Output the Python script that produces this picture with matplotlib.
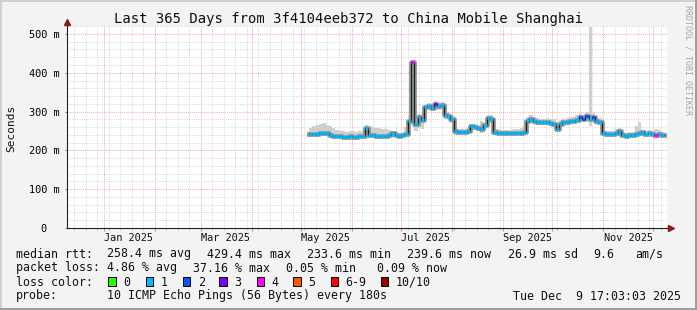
import numpy as np
import pandas as pd
import matplotlib
matplotlib.use("Agg")
import matplotlib.pyplot as plt
import matplotlib.dates as mdates
from matplotlib.ticker import MultipleLocator
from matplotlib.patches import Rectangle
from matplotlib.lines import Line2D

W, H = 697, 310
FONT = "DejaVu Sans Mono"

# time window of the graph
t_start = pd.Timestamp("2024-12-09 17:03")
t_end = pd.Timestamp("2025-12-09 17:03")

# one sample every 2 days from 2025-05-06, values in ms
first_sample = "2025-05-06"
median = [241, 242, 243, 244, 245, 244, 240, 238, 237, 236,
          235, 235, 236, 235, 235, 236, 237, 258, 240, 239,
          238, 238, 237, 238, 240, 244, 240, 238, 239, 241,
          275, 429, 268, 285, 278, 312, 314, 310, 320, 315,
          318, 292, 288, 280, 250, 248, 247, 248, 250, 262,
          260, 258, 255, 265, 283, 282, 248, 246, 245, 246,
          244, 245, 246, 245, 246, 247, 276, 280, 276, 274,
          272, 273, 274, 270, 268, 256, 268, 272, 274, 275,
          276, 278, 286, 282, 288, 280, 286, 275, 274, 244,
          242, 243, 242, 246, 250, 240, 238, 239, 240, 241,
          245, 248, 243, 245, 242, 240, 241, 239]
smoke_hi = [258, 262, 266, 268, 270, 265, 262, 258, 252, 250,
            250, 248, 249, 250, 248, 250, 252, 265, 262, 260,
            258, 257, 256, 255, 252, 250, 248, 245, 246, 260,
            290, 432, 280, 295, 290, 318, 322, 318, 326, 322,
            325, 305, 298, 290, 258, 256, 255, 255, 258, 268,
            266, 264, 275, 272, 292, 290, 256, 254, 252, 253,
            252, 252, 254, 255, 258, 262, 285, 290, 286, 284,
            282, 282, 284, 282, 280, 270, 278, 282, 284, 286,
            287, 290, 296, 292, 298, 518, 296, 288, 284, 252,
            250, 250, 249, 256, 258, 248, 246, 247, 248, 262,
            272, 252, 250, 252, 250, 256, 252, 248]
smoke_lo = [237, 237, 238, 238, 239, 238, 236, 234, 233, 232,
            231, 231, 232, 231, 231, 232, 233, 236, 235, 235,
            234, 234, 233, 234, 236, 238, 236, 234, 235, 236,
            240, 400, 250, 258, 255, 300, 305, 302, 308, 305,
            306, 282, 280, 270, 240, 242, 241, 242, 243, 252,
            252, 250, 246, 255, 272, 270, 240, 240, 239, 240,
            239, 239, 240, 239, 240, 241, 268, 270, 268, 266,
            265, 266, 266, 262, 260, 250, 260, 264, 266, 267,
            268, 270, 276, 272, 278, 262, 278, 268, 266, 238,
            237, 238, 237, 240, 242, 235, 234, 235, 236, 236,
            238, 240, 238, 239, 237, 236, 237, 235]
# loss colour class of each sample
loss = [1, 1, 1, 1, 1, 1, 1, 1, 1, 1,
        1, 1, 1, 1, 1, 1, 1, 1, 1, 1,
        1, 1, 1, 1, 1, 1, 1, 1, 1, 1,
        1, 4, 1, 1, 1, 1, 1, 1, 3, 1,
        1, 1, 1, 1, 1, 1, 1, 1, 1, 1,
        1, 1, 1, 1, 1, 1, 1, 1, 1, 1,
        1, 1, 1, 1, 1, 1, 1, 1, 1, 1,
        1, 1, 1, 1, 1, 1, 1, 1, 1, 1,
        1, 1, 2, 2, 2, 1, 2, 1, 1, 1,
        1, 1, 1, 1, 1, 1, 1, 1, 1, 1,
        1, 1, 1, 1, 1, 4, 1, 1]

loss_colors = ["#26ff00", "#00b8ff", "#0059ff", "#7e00ff",
               "#ff00ff", "#ff5500", "#ff0000", "#a10000"]
loss_labels = ["0", "1", "2", "3", "4", "5", "6-9", "10/10"]

tick_dates = ["2025-01-16", "2025-03-16", "2025-05-16",
              "2025-07-16", "2025-09-16", "2025-11-16"]
tick_labels = ["Jan 2025", "Mar 2025", "May 2025",
               "Jul 2025", "Sep 2025", "Nov 2025"]
y_ticks = [0, 100, 200, 300, 400, 500]
y_labels = ["0  ", "100 m", "200 m", "300 m", "400 m", "500 m"]

title = "Last 365 Days from 3f4104eeb372 to China Mobile Shanghai"
rtt_stats = ["258.4 ms avg", "429.4 ms max", "233.6 ms min",
             "239.6 ms now", "26.9 ms sd", "9.6", "am/s"]
loss_stats = ["4.86 % avg", "37.16 % max", "0.05 % min", "0.09 % now"]
probe_text = "10 ICMP Echo Pings (56 Bytes) every 180s"
stamp = "Tue Dec  9 17:03:03 2025"


def fx(px):
    return px / W


def fy(py):
    return 1 - py / H


fig = plt.figure(figsize=(W / 100, H / 100), dpi=100, facecolor="#f3f3f3")

top_px, bot_px = 26.2, 228
ax = fig.add_axes([fx(67), fy(bot_px), fx(600), (bot_px - top_px) / H])
ax.set_facecolor("white")

dates = pd.date_range(first_sample, periods=len(median), freq="2D")
x = mdates.date2num(dates)
step = x[1] - x[0]
x_edges = np.append(x, x[-1] + step)


def ext(v):
    return np.append(v, v[-1])


# smoke
ax.fill_between(x_edges, ext(smoke_lo), ext(smoke_hi), step="post",
                color="#cfcfcf", lw=0, zorder=2)
ax.step(x_edges, ext(median), where="post", color="#9a9a9a", lw=3.5, zorder=3)
# median line, dark connectors plus loss-coloured segments
ax.step(x_edges, ext(median), where="post", color="#202020", lw=1.0, zorder=4)
ax.hlines(median, x, x + step, colors=[loss_colors[l] for l in loss],
          lw=2.2, zorder=5)

ax.set_xlim(mdates.date2num(t_start), mdates.date2num(t_end))
ax.set_ylim(0, 520)

ax.xaxis.set_major_locator(mdates.MonthLocator())
ax.xaxis.set_minor_locator(mdates.WeekdayLocator(byweekday=mdates.SA))
ax.xaxis.set_major_formatter(plt.NullFormatter())
ax.yaxis.set_major_locator(MultipleLocator(100))
ax.yaxis.set_minor_locator(MultipleLocator(20))
ax.set_yticks(y_ticks, y_labels)

ax.grid(which="minor", color="#d0d0d0", lw=0.7, ls=(0, (1, 1.5)))
ax.grid(which="major", color="#f3aaaa", lw=0.7, ls=(0, (1, 1)))
ax.set_axisbelow(True)

for s in ["top", "right"]:
    ax.spines[s].set_visible(False)
for s in ["left", "bottom"]:
    ax.spines[s].set_color("#202020")
    ax.spines[s].set_linewidth(0.8)
    ax.spines[s].set_zorder(6)

ax.tick_params(axis="x", which="major", length=2, color="#f08080", direction="out")
ax.tick_params(axis="x", which="minor", length=1.5, color="#b0b0b0", direction="out")
ax.tick_params(axis="y", which="major", length=1.5, color="#909090", pad=3.8,
               labelsize=7.4)
ax.tick_params(axis="y", which="minor", length=0)
for lab in ax.get_yticklabels():
    lab.set_fontfamily(FONT)

# arrows at the ends of the axes
arrow_c = "#8b1a1a"
ax.add_line(Line2D([0, 0], [1, 1.02], transform=ax.transAxes, color="#202020",
                   lw=0.8, clip_on=False))
ax.plot([0], [1.022], marker="^", ms=4.5, color=arrow_c, transform=ax.transAxes,
        clip_on=False)
ax.add_line(Line2D([1, 1.005], [0, 0], transform=ax.transAxes, color="#202020",
                   lw=0.8, clip_on=False))
ax.plot([1.0065], [0], marker=">", ms=4.5, color=arrow_c, transform=ax.transAxes,
        clip_on=False)

# month labels
for d, lab in zip(tick_dates, tick_labels):
    ax.text(mdates.date2num(pd.Timestamp(d)), -(237.7 - bot_px) / (bot_px - top_px),
            lab, transform=ax.get_xaxis_transform(), ha="center", va="center",
            fontsize=7.4, family=FONT, color="#101010")

fig.text(fx(348), fy(18.5), title, ha="center", va="center", fontsize=10,
         family=FONT, color="#101010")
fig.text(fx(11), fy(128), "Seconds", rotation=90, ha="center", va="center",
         fontsize=8, family=FONT, color="#101010")
fig.text(fx(688), fy(60), "RRDTOOL / TOBI OETIKER", rotation=270, ha="center",
         va="center", fontsize=6, family=FONT, color="#a8a8a8")

# legend block
lsize = 8.4
kw = dict(ha="left", va="center", fontsize=lsize, family=FONT, color="#101010")
fig.text(fx(16), fy(254), "median rtt:", **kw)
for xp, s in zip([107, 207, 307, 407, 507.5, 593, 635], rtt_stats):
    fig.text(fx(xp), fy(254), s, **kw)
fig.text(fx(16), fy(268), "packet loss:", **kw)
for xp, s in zip([107, 193, 286, 377], loss_stats):
    fig.text(fx(xp), fy(268), s, **kw)
fig.text(fx(16), fy(282), "loss color:", **kw)
sw_x = [108.3, 145.7, 182.7, 219.3, 256.7, 293.3, 330.7, 380.7]
for xp, c, lab in zip(sw_x, loss_colors, loss_labels):
    fig.add_artist(Rectangle((fx(xp), fy(285.7)), fx(7.4), 8.4 / H,
                             transform=fig.transFigure, facecolor=c,
                             edgecolor="#000000", lw=0.7))
    fig.text(fx(xp + 15), fy(282), lab, **kw)
fig.text(fx(16), fy(296), "probe:", **kw)
fig.text(fx(107), fy(296), probe_text, **kw)
fig.text(fx(513), fy(296), stamp, **kw)

# frame around the image
fig.add_artist(Line2D([0, 1], [fy(0.7), fy(0.7)], transform=fig.transFigure,
                      color="#d0d0d0", lw=1.4))
fig.add_artist(Line2D([fx(0.7), fx(0.7)], [0, 1], transform=fig.transFigure,
                      color="#d0d0d0", lw=1.4))
fig.add_artist(Line2D([0, 1], [fy(H - 1), fy(H - 1)], transform=fig.transFigure,
                      color="#9c9c9c", lw=1.4))
fig.add_artist(Line2D([fx(W - 1), fx(W - 1)], [0, 1], transform=fig.transFigure,
                      color="#9c9c9c", lw=1.4))

fig.savefig("out.png", dpi=100, facecolor=fig.get_facecolor())
